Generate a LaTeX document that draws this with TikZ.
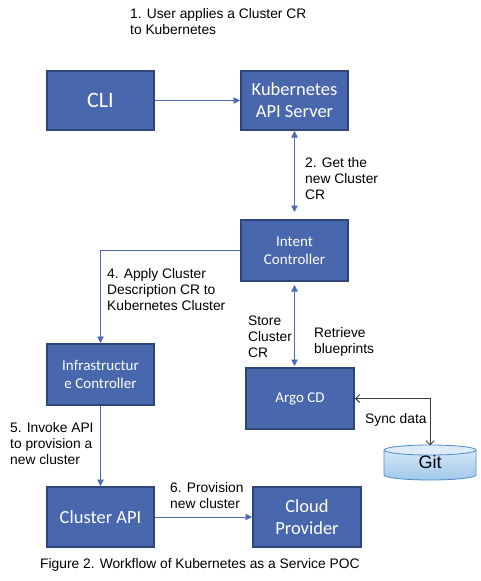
\documentclass[tikz,border=0pt]{standalone}
\usepackage{fontspec}
\setmainfont{Liberation Sans}
\newfontfamily\carlito{Carlito}
\usetikzlibrary{arrows.meta}
\definecolor{boxfill}{RGB}{73,103,172}
\definecolor{boxborder}{RGB}{46,70,122}
\definecolor{conn}{RGB}{74,108,180}
\definecolor{syncline}{RGB}{60,60,60}
\definecolor{gittop}{RGB}{222,236,249}
\definecolor{gitbot}{RGB}{160,200,234}
\definecolor{gitborder}{RGB}{80,140,200}
\tikzset{
  box/.style={draw=boxborder, line width=2pt, fill=boxfill, text=white,
    align=center, inner sep=0pt, minimum width=107pt, minimum height=60pt},
  bigtext/.style={font=\carlito\fontsize{18.5}{22}\selectfont},
  smalltext/.style={font=\carlito\fontsize{15}{17.5}\selectfont},
  lbl/.style={anchor=north west, inner sep=0pt, align=left,
    font=\fontsize{13.8}{16}\selectfont},
  flow/.style={draw=conn, line width=0.9pt, -{Triangle[length=6.5pt,width=6.5pt]}},
  flowboth/.style={draw=conn, line width=0.9pt,
    {Triangle[length=6.5pt,width=6.5pt]}-{Triangle[length=6.5pt,width=6.5pt]}},
  sync/.style={draw=syncline, line width=0.9pt,
    {Straight Barb[length=4pt,width=8pt]}-{Straight Barb[length=4pt,width=8pt]}}
}
\begin{document}
\begin{tikzpicture}[x=1pt,y=-1pt]
\useasboundingbox[fill=white] (0,0) rectangle (481,581);

% boxes
\node[box, font=\carlito\fontsize{22}{26}\selectfont, minimum height=59pt] (cli) at (100.5,100.5) {CLI};
\node[box, bigtext, minimum height=59pt] (k8s) at (294.5,100.5) {Kubernetes\\API Server};
\node[box, smalltext, minimum height=61pt] (intent) at (294.5,250.5) {Intent\\Controller};
\node[box, smalltext, minimum height=61pt] (infra) at (100.5,374.5) {Infrastructur\\e Controller};
\node[box, smalltext, minimum width=108pt, minimum height=61pt] (argo) at (300,398.5) {Argo CD};
\node[box, bigtext] (capi) at (100.5,517) {Cluster API};
\node[box, bigtext, minimum width=108pt] (cloud) at (307,517) {Cloud\\Provider};

% git cylinder
\path[top color=gittop, bottom color=gitbot]
  (384,450) -- (384,475) arc[start angle=180, end angle=360, x radius=46pt, y radius=5pt]
  -- (476,450) arc[start angle=0, end angle=180, x radius=46pt, y radius=5pt] -- cycle;
\draw[gitborder, line width=0.8pt]
  (384,450) -- (384,475) arc[start angle=180, end angle=360, x radius=46pt, y radius=5pt]
  -- (476,450);
\draw[gitborder, line width=0.8pt, fill=gittop] (430,450) ellipse [x radius=46pt, y radius=5pt];
\node[inner sep=0pt, minimum width=92pt, minimum height=35pt, font=\fontsize{18}{20}\selectfont]
  (git) at (430,462.5) {\raisebox{-3.5pt}{Git}};

% connectors
\draw[flow] (cli.east) -- (k8s.west);
\draw[flowboth, shorten >=7pt] (k8s.south) -- (intent.north);
\draw[flow] (intent.west) -| (infra.north);
\draw[flowboth, shorten <=3pt, shorten >=1pt] (intent.south) -- (intent.south |- argo.north);
\draw[flow] (infra.south) -- (capi.north);
\draw[flow] (capi.east) -- (cloud.west);
\draw[sync] (argo.east) -| ([yshift=-0.5pt]git.north);

% labels
\node[lbl] (l1) at (130,8) {1. User applies a Cluster CR\\to Kubernetes};
\node[lbl] (l2) at (305,157) {2. Get the\\new Cluster\\CR};
\node[lbl] (l4) at (107,268) {4. Apply Cluster\\Description CR to\\Kubernetes Cluster};
\node[lbl] (l3a) at (248,316) {Store\\Cluster\\CR};
\node[lbl] (l3b) at (314,327) {Retrieve\\blueprints};
\node[lbl] (l5) at (10,422) {5. Invoke API\\to provision a\\new cluster};
\node[lbl] (l6) at (170,482) {6. Provision\\new cluster};
\node[lbl] (ls) at (365,413) {Sync data};
\node[lbl] (cap) at (40,558) {Figure 2. Workflow of Kubernetes as a Service POC};
\end{tikzpicture}
\end{document}
